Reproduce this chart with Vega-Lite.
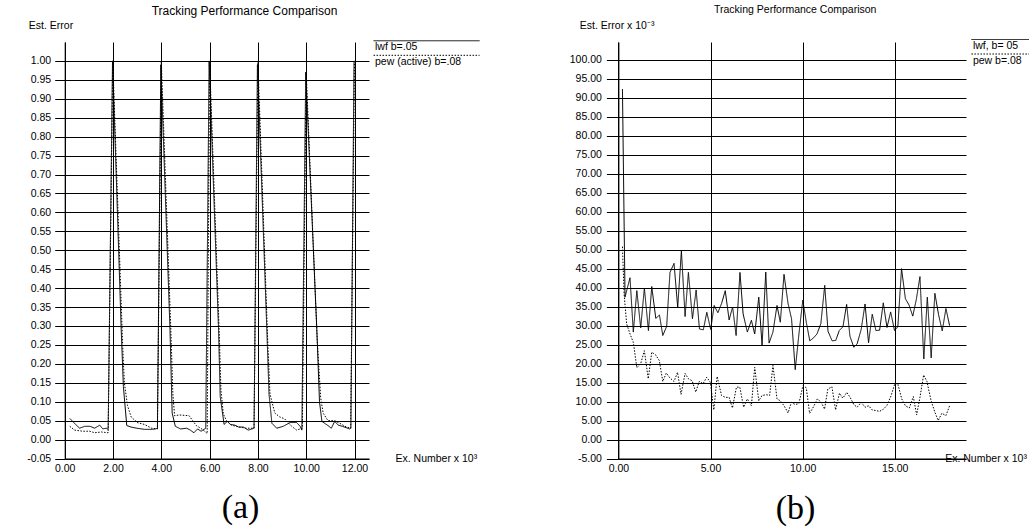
{
  "$schema": "https://vega.github.io/schema/vega-lite/v6.json",
  "width": 1029,
  "height": 416.5,
  "autosize": {"type": "none"},
  "padding": {"left": 0, "right": 0, "top": 42, "bottom": 68.5},
  "background": "white",
  "config": {
    "view": {"stroke": null},
    "font": "Liberation Sans",
    "axis": {
      "labelFont": "Liberation Sans", "labelFontSize": 10.5, "labelColor": "#000",
      "titleFont": "Liberation Sans", "titleFontWeight": "normal", "titleColor": "#000",
      "domainColor": "#000", "tickColor": "#000", "gridColor": "#000", "gridOpacity": 1,
      "gridWidth": 1, "domainWidth": 1, "tickWidth": 1, "labelFlush": false, "labelOverlap": false
    },
    "legend": {"labelFont": "Liberation Sans", "labelFontSize": 10.5, "labelColor": "#000", "padding": 0}
  },
  "resolve": {
    "scale": {"x": "independent", "y": "independent", "strokeDash": "independent"},
    "axis": {"x": "independent", "y": "independent"},
    "legend": {"strokeDash": "independent"}
  },
  "layer": [
    {
      "data": {"values": [
        {"series": "lwf b=.05", "ex": 0.21, "err": 0.056}, {"series": "lwf b=.05", "ex": 0.45, "err": 0.04},
        {"series": "lwf b=.05", "ex": 0.62, "err": 0.03}, {"series": "lwf b=.05", "ex": 0.83, "err": 0.035},
        {"series": "lwf b=.05", "ex": 1.05, "err": 0.035}, {"series": "lwf b=.05", "ex": 1.24, "err": 0.03},
        {"series": "lwf b=.05", "ex": 1.45, "err": 0.038}, {"series": "lwf b=.05", "ex": 1.58, "err": 0.028},
        {"series": "lwf b=.05", "ex": 1.72, "err": 0.03}, {"series": "lwf b=.05", "ex": 1.8, "err": 0.027},
        {"series": "lwf b=.05", "ex": 1.98, "err": 1.0}, {"series": "lwf b=.05", "ex": 2.34, "err": 0.29},
        {"series": "lwf b=.05", "ex": 2.43, "err": 0.14}, {"series": "lwf b=.05", "ex": 2.57, "err": 0.037},
        {"series": "lwf b=.05", "ex": 2.75, "err": 0.033}, {"series": "lwf b=.05", "ex": 2.98, "err": 0.03},
        {"series": "lwf b=.05", "ex": 3.3, "err": 0.027}, {"series": "lwf b=.05", "ex": 3.6, "err": 0.027},
        {"series": "lwf b=.05", "ex": 3.75, "err": 0.028}, {"series": "lwf b=.05", "ex": 3.84, "err": 0.03},
        {"series": "lwf b=.05", "ex": 3.98, "err": 0.99}, {"series": "lwf b=.05", "ex": 4.36, "err": 0.29},
        {"series": "lwf b=.05", "ex": 4.45, "err": 0.07}, {"series": "lwf b=.05", "ex": 4.58, "err": 0.035},
        {"series": "lwf b=.05", "ex": 4.8, "err": 0.028}, {"series": "lwf b=.05", "ex": 5.05, "err": 0.03},
        {"series": "lwf b=.05", "ex": 5.2, "err": 0.025}, {"series": "lwf b=.05", "ex": 5.35, "err": 0.018},
        {"series": "lwf b=.05", "ex": 5.5, "err": 0.028}, {"series": "lwf b=.05", "ex": 5.65, "err": 0.022},
        {"series": "lwf b=.05", "ex": 5.84, "err": 0.03}, {"series": "lwf b=.05", "ex": 5.98, "err": 1.0},
        {"series": "lwf b=.05", "ex": 6.37, "err": 0.29}, {"series": "lwf b=.05", "ex": 6.44, "err": 0.113},
        {"series": "lwf b=.05", "ex": 6.6, "err": 0.04}, {"series": "lwf b=.05", "ex": 6.73, "err": 0.048},
        {"series": "lwf b=.05", "ex": 6.86, "err": 0.04}, {"series": "lwf b=.05", "ex": 7.05, "err": 0.038},
        {"series": "lwf b=.05", "ex": 7.2, "err": 0.033}, {"series": "lwf b=.05", "ex": 7.4, "err": 0.033},
        {"series": "lwf b=.05", "ex": 7.6, "err": 0.025}, {"series": "lwf b=.05", "ex": 7.75, "err": 0.028},
        {"series": "lwf b=.05", "ex": 7.84, "err": 0.03}, {"series": "lwf b=.05", "ex": 7.98, "err": 0.99},
        {"series": "lwf b=.05", "ex": 8.37, "err": 0.29}, {"series": "lwf b=.05", "ex": 8.46, "err": 0.12},
        {"series": "lwf b=.05", "ex": 8.58, "err": 0.043}, {"series": "lwf b=.05", "ex": 8.78, "err": 0.03},
        {"series": "lwf b=.05", "ex": 9.05, "err": 0.035}, {"series": "lwf b=.05", "ex": 9.33, "err": 0.045},
        {"series": "lwf b=.05", "ex": 9.6, "err": 0.045}, {"series": "lwf b=.05", "ex": 9.75, "err": 0.035},
        {"series": "lwf b=.05", "ex": 9.82, "err": 0.025}, {"series": "lwf b=.05", "ex": 9.98, "err": 0.97},
        {"series": "lwf b=.05", "ex": 10.44, "err": 0.29}, {"series": "lwf b=.05", "ex": 10.55, "err": 0.1},
        {"series": "lwf b=.05", "ex": 10.65, "err": 0.048}, {"series": "lwf b=.05", "ex": 10.9, "err": 0.037},
        {"series": "lwf b=.05", "ex": 11.04, "err": 0.03}, {"series": "lwf b=.05", "ex": 11.18, "err": 0.048},
        {"series": "lwf b=.05", "ex": 11.33, "err": 0.038}, {"series": "lwf b=.05", "ex": 11.5, "err": 0.035},
        {"series": "lwf b=.05", "ex": 11.8, "err": 0.028}, {"series": "lwf b=.05", "ex": 11.85, "err": 0.03},
        {"series": "lwf b=.05", "ex": 11.98, "err": 1.0}
      ]},
      "mark": {"type": "line", "color": "#000", "strokeWidth": 1},
      "encoding": {
        "x": {"field": "ex", "type": "quantitative",
          "scale": {"domain": [0, 12.6], "range": [64.7, 369], "nice": false, "zero": false},
          "axis": {"orient": "bottom", "values": [0, 2, 4, 6, 8, 10, 12], "format": ".2f", "ticks": false,
            "labelPadding": 5, "grid": true, "title": "Ex. Number x 10³", "titleX": 395, "titleY": -0.5,
            "titleAlign": "left", "titleBaseline": "middle", "titleAngle": 0, "titleFontSize": 10.5}},
        "y": {"field": "err", "type": "quantitative",
          "scale": {"domain": [-0.05, 1.05], "nice": false, "zero": false},
          "axis": {"orient": "left", "offset": -64.7,
            "values": [-0.05, 0, 0.05, 0.1, 0.15, 0.2, 0.25, 0.3, 0.35, 0.4, 0.45, 0.5, 0.55, 0.6, 0.65, 0.7, 0.75, 0.8, 0.85, 0.9, 0.95, 1.0],
            "format": ".2f", "labelExpr": "replace(datum.label, '\u2212', '-')", "tickSize": 10, "labelPadding": 4,
            "grid": true, "title": "Est. Error", "titleX": -36.4, "titleY": -16.3, "titleAlign": "left",
            "titleBaseline": "middle", "titleAngle": 0, "titleFontSize": 10.5}},
        "strokeDash": {"field": "series", "type": "nominal",
          "scale": {"domain": ["lwf b=.05"], "range": [[1, 0]]},
          "legend": {"orient": "none", "legendX": 368.3, "legendY": -6.5, "title": null, "symbolType": "M0,0H40",
            "symbolSize": 28.09, "symbolStrokeWidth": 1, "symbolStrokeColor": "#000", "labelOffset": -3.8, "labelBaseline": "top",
            "encode": {"labels": {"update": {"dy": {"value": 1.5}}}}}}
      }
    },
    {
      "data": {"values": [
        {"series": "pew (active) b=.08", "ex": 0.21, "err": 0.035}, {"series": "pew (active) b=.08", "ex": 0.41, "err": 0.025},
        {"series": "pew (active) b=.08", "ex": 0.76, "err": 0.022}, {"series": "pew (active) b=.08", "ex": 1.04, "err": 0.022},
        {"series": "pew (active) b=.08", "ex": 1.24, "err": 0.018}, {"series": "pew (active) b=.08", "ex": 1.52, "err": 0.02},
        {"series": "pew (active) b=.08", "ex": 1.8, "err": 0.018}, {"series": "pew (active) b=.08", "ex": 1.99, "err": 1.0},
        {"series": "pew (active) b=.08", "ex": 2.4, "err": 0.25}, {"series": "pew (active) b=.08", "ex": 2.47, "err": 0.15},
        {"series": "pew (active) b=.08", "ex": 2.6, "err": 0.09}, {"series": "pew (active) b=.08", "ex": 2.75, "err": 0.06},
        {"series": "pew (active) b=.08", "ex": 3.0, "err": 0.045}, {"series": "pew (active) b=.08", "ex": 3.3, "err": 0.04},
        {"series": "pew (active) b=.08", "ex": 3.6, "err": 0.03}, {"series": "pew (active) b=.08", "ex": 3.84, "err": 0.028},
        {"series": "pew (active) b=.08", "ex": 4.0, "err": 1.0}, {"series": "pew (active) b=.08", "ex": 4.4, "err": 0.28},
        {"series": "pew (active) b=.08", "ex": 4.48, "err": 0.12}, {"series": "pew (active) b=.08", "ex": 4.55, "err": 0.063},
        {"series": "pew (active) b=.08", "ex": 4.75, "err": 0.065}, {"series": "pew (active) b=.08", "ex": 5.15, "err": 0.063},
        {"series": "pew (active) b=.08", "ex": 5.3, "err": 0.05}, {"series": "pew (active) b=.08", "ex": 5.45, "err": 0.037},
        {"series": "pew (active) b=.08", "ex": 5.7, "err": 0.027}, {"series": "pew (active) b=.08", "ex": 5.9, "err": 0.016},
        {"series": "pew (active) b=.08", "ex": 6.0, "err": 1.0}, {"series": "pew (active) b=.08", "ex": 6.4, "err": 0.28},
        {"series": "pew (active) b=.08", "ex": 6.47, "err": 0.13}, {"series": "pew (active) b=.08", "ex": 6.57, "err": 0.067},
        {"series": "pew (active) b=.08", "ex": 6.7, "err": 0.05}, {"series": "pew (active) b=.08", "ex": 6.9, "err": 0.038},
        {"series": "pew (active) b=.08", "ex": 7.25, "err": 0.033}, {"series": "pew (active) b=.08", "ex": 7.5, "err": 0.03},
        {"series": "pew (active) b=.08", "ex": 7.84, "err": 0.03}, {"series": "pew (active) b=.08", "ex": 8.0, "err": 1.0},
        {"series": "pew (active) b=.08", "ex": 8.4, "err": 0.27}, {"series": "pew (active) b=.08", "ex": 8.5, "err": 0.12},
        {"series": "pew (active) b=.08", "ex": 8.7, "err": 0.07}, {"series": "pew (active) b=.08", "ex": 8.9, "err": 0.06},
        {"series": "pew (active) b=.08", "ex": 9.1, "err": 0.055}, {"series": "pew (active) b=.08", "ex": 9.4, "err": 0.035},
        {"series": "pew (active) b=.08", "ex": 9.6, "err": 0.025}, {"series": "pew (active) b=.08", "ex": 9.84, "err": 0.03},
        {"series": "pew (active) b=.08", "ex": 10.0, "err": 0.97}, {"series": "pew (active) b=.08", "ex": 10.45, "err": 0.27},
        {"series": "pew (active) b=.08", "ex": 10.6, "err": 0.11}, {"series": "pew (active) b=.08", "ex": 10.7, "err": 0.07},
        {"series": "pew (active) b=.08", "ex": 10.9, "err": 0.05}, {"series": "pew (active) b=.08", "ex": 11.18, "err": 0.05},
        {"series": "pew (active) b=.08", "ex": 11.33, "err": 0.045}, {"series": "pew (active) b=.08", "ex": 11.67, "err": 0.033},
        {"series": "pew (active) b=.08", "ex": 11.84, "err": 0.03}, {"series": "pew (active) b=.08", "ex": 12.0, "err": 1.0}
      ]},
      "mark": {"type": "line", "color": "#000", "strokeWidth": 1},
      "encoding": {
        "x": {"field": "ex", "type": "quantitative",
          "scale": {"domain": [0, 12.6], "range": [64.7, 369], "nice": false, "zero": false},
          "axis": {"orient": "bottom", "labels": false, "ticks": false, "domain": false, "grid": false,
            "title": "(a)", "titleX": 240, "titleY": 48.5, "titleAlign": "center", "titleBaseline": "middle",
            "titleAngle": 0, "titleFont": "Liberation Serif", "titleFontSize": 34}},
        "y": {"field": "err", "type": "quantitative",
          "scale": {"domain": [-0.05, 1.05], "nice": false, "zero": false},
          "axis": {"orient": "left", "labels": false, "ticks": false, "domain": false, "grid": false,
            "title": "Tracking Performance Comparison", "titleX": 244, "titleY": -32, "titleAlign": "center",
            "titleBaseline": "middle", "titleAngle": 0, "titleFontSize": 12}},
        "strokeDash": {"field": "series", "type": "nominal",
          "scale": {"domain": ["pew (active) b=.08"], "range": [[1.5, 1.5]]},
          "legend": {"orient": "none", "legendX": 368.3, "legendY": 8.05, "title": null, "symbolType": "M0,0H40",
            "symbolSize": 28.09, "symbolStrokeWidth": 1, "symbolStrokeColor": "#000", "labelOffset": -3.8, "labelBaseline": "top",
            "encode": {"labels": {"update": {"dy": {"value": 1.5}}}}}}
      }
    },
    {
      "data": {"values": [
        {"series": "lwf, b= 05", "ex": 0.22, "err": 92.3}, {"series": "lwf, b= 05", "ex": 0.36, "err": 37.5},
        {"series": "lwf, b= 05", "ex": 0.63, "err": 42.6}, {"series": "lwf, b= 05", "ex": 0.81, "err": 28.3},
        {"series": "lwf, b= 05", "ex": 1.0, "err": 39.2}, {"series": "lwf, b= 05", "ex": 1.21, "err": 29.4},
        {"series": "lwf, b= 05", "ex": 1.41, "err": 39.9}, {"series": "lwf, b= 05", "ex": 1.63, "err": 28.7},
        {"series": "lwf, b= 05", "ex": 1.81, "err": 40.3}, {"series": "lwf, b= 05", "ex": 2.03, "err": 31.9},
        {"series": "lwf, b= 05", "ex": 2.23, "err": 32.8}, {"series": "lwf, b= 05", "ex": 2.41, "err": 27.4},
        {"series": "lwf, b= 05", "ex": 2.62, "err": 29.8}, {"series": "lwf, b= 05", "ex": 2.8, "err": 44.0},
        {"series": "lwf, b= 05", "ex": 3.02, "err": 46.4}, {"series": "lwf, b= 05", "ex": 3.22, "err": 34.8},
        {"series": "lwf, b= 05", "ex": 3.42, "err": 49.7}, {"series": "lwf, b= 05", "ex": 3.62, "err": 32.4},
        {"series": "lwf, b= 05", "ex": 3.8, "err": 44.0}, {"series": "lwf, b= 05", "ex": 4.02, "err": 31.8},
        {"series": "lwf, b= 05", "ex": 4.22, "err": 39.4}, {"series": "lwf, b= 05", "ex": 4.4, "err": 29.1},
        {"series": "lwf, b= 05", "ex": 4.61, "err": 28.9}, {"series": "lwf, b= 05", "ex": 4.8, "err": 33.5},
        {"series": "lwf, b= 05", "ex": 5.01, "err": 29.0}, {"series": "lwf, b= 05", "ex": 5.2, "err": 35.3},
        {"series": "lwf, b= 05", "ex": 5.4, "err": 33.4}, {"series": "lwf, b= 05", "ex": 5.6, "err": 35.8},
        {"series": "lwf, b= 05", "ex": 5.8, "err": 39.2}, {"series": "lwf, b= 05", "ex": 6.01, "err": 31.5},
        {"series": "lwf, b= 05", "ex": 6.2, "err": 34.9}, {"series": "lwf, b= 05", "ex": 6.39, "err": 27.4},
        {"series": "lwf, b= 05", "ex": 6.6, "err": 44.0}, {"series": "lwf, b= 05", "ex": 6.77, "err": 33.1},
        {"series": "lwf, b= 05", "ex": 7.0, "err": 28.3}, {"series": "lwf, b= 05", "ex": 7.22, "err": 31.4},
        {"series": "lwf, b= 05", "ex": 7.4, "err": 27.8}, {"series": "lwf, b= 05", "ex": 7.62, "err": 37.5},
        {"series": "lwf, b= 05", "ex": 7.8, "err": 24.8}, {"series": "lwf, b= 05", "ex": 8.0, "err": 44.1},
        {"series": "lwf, b= 05", "ex": 8.18, "err": 25.4}, {"series": "lwf, b= 05", "ex": 8.39, "err": 28.3},
        {"series": "lwf, b= 05", "ex": 8.61, "err": 35.3}, {"series": "lwf, b= 05", "ex": 8.79, "err": 30.9},
        {"series": "lwf, b= 05", "ex": 8.99, "err": 43.5}, {"series": "lwf, b= 05", "ex": 9.21, "err": 35.8},
        {"series": "lwf, b= 05", "ex": 9.4, "err": 31.8}, {"series": "lwf, b= 05", "ex": 9.6, "err": 18.4},
        {"series": "lwf, b= 05", "ex": 9.8, "err": 27.8}, {"series": "lwf, b= 05", "ex": 10.01, "err": 36.7},
        {"series": "lwf, b= 05", "ex": 10.2, "err": 30.9}, {"series": "lwf, b= 05", "ex": 10.39, "err": 26.0},
        {"series": "lwf, b= 05", "ex": 10.6, "err": 26.8}, {"series": "lwf, b= 05", "ex": 10.78, "err": 27.8},
        {"series": "lwf, b= 05", "ex": 10.99, "err": 30.5}, {"series": "lwf, b= 05", "ex": 11.2, "err": 40.6},
        {"series": "lwf, b= 05", "ex": 11.38, "err": 28.5}, {"series": "lwf, b= 05", "ex": 11.6, "err": 26.0},
        {"series": "lwf, b= 05", "ex": 11.8, "err": 26.1}, {"series": "lwf, b= 05", "ex": 11.99, "err": 28.7},
        {"series": "lwf, b= 05", "ex": 12.19, "err": 29.7}, {"series": "lwf, b= 05", "ex": 12.39, "err": 35.6},
        {"series": "lwf, b= 05", "ex": 12.57, "err": 27.2}, {"series": "lwf, b= 05", "ex": 12.78, "err": 24.3},
        {"series": "lwf, b= 05", "ex": 12.96, "err": 25.2}, {"series": "lwf, b= 05", "ex": 13.18, "err": 29.0},
        {"series": "lwf, b= 05", "ex": 13.39, "err": 35.7}, {"series": "lwf, b= 05", "ex": 13.58, "err": 25.5},
        {"series": "lwf, b= 05", "ex": 13.78, "err": 33.0}, {"series": "lwf, b= 05", "ex": 13.98, "err": 28.7},
        {"series": "lwf, b= 05", "ex": 14.18, "err": 28.8}, {"series": "lwf, b= 05", "ex": 14.38, "err": 36.0},
        {"series": "lwf, b= 05", "ex": 14.58, "err": 29.5}, {"series": "lwf, b= 05", "ex": 14.78, "err": 33.6},
        {"series": "lwf, b= 05", "ex": 14.99, "err": 28.7}, {"series": "lwf, b= 05", "ex": 15.17, "err": 29.7},
        {"series": "lwf, b= 05", "ex": 15.37, "err": 45.0}, {"series": "lwf, b= 05", "ex": 15.58, "err": 37.1},
        {"series": "lwf, b= 05", "ex": 15.78, "err": 35.4}, {"series": "lwf, b= 05", "ex": 15.98, "err": 32.5},
        {"series": "lwf, b= 05", "ex": 16.17, "err": 36.8}, {"series": "lwf, b= 05", "ex": 16.37, "err": 42.9},
        {"series": "lwf, b= 05", "ex": 16.58, "err": 21.2}, {"series": "lwf, b= 05", "ex": 16.77, "err": 37.5},
        {"series": "lwf, b= 05", "ex": 16.98, "err": 21.5}, {"series": "lwf, b= 05", "ex": 17.18, "err": 38.5},
        {"series": "lwf, b= 05", "ex": 17.38, "err": 32.9}, {"series": "lwf, b= 05", "ex": 17.58, "err": 28.6},
        {"series": "lwf, b= 05", "ex": 17.78, "err": 34.5}, {"series": "lwf, b= 05", "ex": 17.98, "err": 30.0}
      ]},
      "mark": {"type": "line", "color": "#000", "strokeWidth": 1},
      "encoding": {
        "x": {"field": "ex", "type": "quantitative",
          "scale": {"domain": [0, 18.87], "range": [618.4, 966], "nice": false, "zero": false},
          "axis": {"orient": "bottom", "values": [0, 5, 10, 15], "format": ".2f", "ticks": false,
            "labelPadding": 5, "grid": true, "title": "Ex. Number x 10³", "titleX": 944.7, "titleY": 0.4,
            "titleAlign": "left", "titleBaseline": "middle", "titleAngle": 0, "titleFontSize": 10.5}},
        "y": {"field": "err", "type": "quantitative",
          "scale": {"domain": [-5, 104.7], "nice": false, "zero": false},
          "axis": {"orient": "left", "offset": -618.4,
            "values": [-5, 0, 5, 10, 15, 20, 25, 30, 35, 40, 45, 50, 55, 60, 65, 70, 75, 80, 85, 90, 95, 100],
            "format": ".2f", "labelExpr": "replace(datum.label, '\u2212', '-')", "tickSize": 12, "labelPadding": 5,
            "grid": true, "title": "Est. Error x 10⁻³", "titleX": -39.1, "titleY": -16.7, "titleAlign": "left",
            "titleBaseline": "middle", "titleAngle": 0, "titleFontSize": 10.5}},
        "strokeDash": {"field": "series", "type": "nominal",
          "scale": {"domain": ["lwf, b= 05"], "range": [[1, 0]]},
          "legend": {"orient": "none", "legendX": 966.2, "legendY": -7.75, "title": null, "symbolType": "M0,0H40",
            "symbolSize": 28.09, "symbolStrokeWidth": 1, "symbolStrokeColor": "#000", "labelOffset": -3.8, "labelBaseline": "top",
            "encode": {"labels": {"update": {"dy": {"value": 1.5}}}}}}
      }
    },
    {
      "data": {"values": [
        {"series": "pew b=.08", "ex": 0.22, "err": 50.8}, {"series": "pew b=.08", "ex": 0.31, "err": 38.3},
        {"series": "pew b=.08", "ex": 0.45, "err": 30.4}, {"series": "pew b=.08", "ex": 0.63, "err": 27.8},
        {"series": "pew b=.08", "ex": 0.81, "err": 25.6}, {"series": "pew b=.08", "ex": 1.0, "err": 18.9},
        {"series": "pew b=.08", "ex": 1.21, "err": 20.0}, {"series": "pew b=.08", "ex": 1.41, "err": 23.4},
        {"series": "pew b=.08", "ex": 1.62, "err": 16.0}, {"series": "pew b=.08", "ex": 1.81, "err": 23.0},
        {"series": "pew b=.08", "ex": 2.02, "err": 22.3}, {"series": "pew b=.08", "ex": 2.22, "err": 20.8},
        {"series": "pew b=.08", "ex": 2.41, "err": 15.3}, {"series": "pew b=.08", "ex": 2.6, "err": 17.5},
        {"series": "pew b=.08", "ex": 2.8, "err": 16.2}, {"series": "pew b=.08", "ex": 3.02, "err": 15.3},
        {"series": "pew b=.08", "ex": 3.21, "err": 17.7}, {"series": "pew b=.08", "ex": 3.4, "err": 11.9},
        {"series": "pew b=.08", "ex": 3.62, "err": 17.4}, {"series": "pew b=.08", "ex": 3.8, "err": 16.0},
        {"series": "pew b=.08", "ex": 4.0, "err": 15.5}, {"series": "pew b=.08", "ex": 4.2, "err": 12.5},
        {"series": "pew b=.08", "ex": 4.39, "err": 15.3}, {"series": "pew b=.08", "ex": 4.6, "err": 14.7},
        {"series": "pew b=.08", "ex": 4.79, "err": 16.4}, {"series": "pew b=.08", "ex": 4.99, "err": 15.1},
        {"series": "pew b=.08", "ex": 5.18, "err": 7.8}, {"series": "pew b=.08", "ex": 5.36, "err": 16.6},
        {"series": "pew b=.08", "ex": 5.6, "err": 11.6}, {"series": "pew b=.08", "ex": 5.81, "err": 11.1},
        {"series": "pew b=.08", "ex": 6.01, "err": 11.1}, {"series": "pew b=.08", "ex": 6.19, "err": 8.3},
        {"series": "pew b=.08", "ex": 6.41, "err": 13.8}, {"series": "pew b=.08", "ex": 6.59, "err": 13.8},
        {"series": "pew b=.08", "ex": 6.8, "err": 8.5}, {"series": "pew b=.08", "ex": 7.0, "err": 10.7},
        {"series": "pew b=.08", "ex": 7.22, "err": 8.9}, {"series": "pew b=.08", "ex": 7.4, "err": 19.0},
        {"series": "pew b=.08", "ex": 7.62, "err": 10.2}, {"series": "pew b=.08", "ex": 7.8, "err": 11.6},
        {"series": "pew b=.08", "ex": 8.03, "err": 11.8}, {"series": "pew b=.08", "ex": 8.21, "err": 11.6},
        {"series": "pew b=.08", "ex": 8.39, "err": 19.5}, {"series": "pew b=.08", "ex": 8.61, "err": 10.7},
        {"series": "pew b=.08", "ex": 8.79, "err": 10.2}, {"series": "pew b=.08", "ex": 8.99, "err": 8.9},
        {"series": "pew b=.08", "ex": 9.21, "err": 7.0}, {"series": "pew b=.08", "ex": 9.39, "err": 9.8},
        {"series": "pew b=.08", "ex": 9.6, "err": 9.2}, {"series": "pew b=.08", "ex": 9.8, "err": 9.5},
        {"series": "pew b=.08", "ex": 10.02, "err": 14.2}, {"series": "pew b=.08", "ex": 10.2, "err": 13.6},
        {"series": "pew b=.08", "ex": 10.38, "err": 6.9}, {"series": "pew b=.08", "ex": 10.6, "err": 8.7},
        {"series": "pew b=.08", "ex": 10.8, "err": 10.7}, {"series": "pew b=.08", "ex": 11.01, "err": 9.8},
        {"series": "pew b=.08", "ex": 11.19, "err": 8.0}, {"series": "pew b=.08", "ex": 11.37, "err": 13.3},
        {"series": "pew b=.08", "ex": 11.59, "err": 13.9}, {"series": "pew b=.08", "ex": 11.79, "err": 7.8},
        {"series": "pew b=.08", "ex": 12.0, "err": 12.2}, {"series": "pew b=.08", "ex": 12.18, "err": 10.9},
        {"series": "pew b=.08", "ex": 12.4, "err": 12.4}, {"series": "pew b=.08", "ex": 12.58, "err": 11.1},
        {"series": "pew b=.08", "ex": 12.78, "err": 9.2}, {"series": "pew b=.08", "ex": 12.96, "err": 8.5},
        {"series": "pew b=.08", "ex": 13.18, "err": 9.8}, {"series": "pew b=.08", "ex": 13.39, "err": 8.5},
        {"series": "pew b=.08", "ex": 13.59, "err": 8.9}, {"series": "pew b=.08", "ex": 13.77, "err": 7.8},
        {"series": "pew b=.08", "ex": 14.0, "err": 7.6}, {"series": "pew b=.08", "ex": 14.17, "err": 7.4},
        {"series": "pew b=.08", "ex": 14.39, "err": 8.0}, {"series": "pew b=.08", "ex": 14.58, "err": 9.0},
        {"series": "pew b=.08", "ex": 14.8, "err": 11.5}, {"series": "pew b=.08", "ex": 15.0, "err": 14.6},
        {"series": "pew b=.08", "ex": 15.16, "err": 14.8}, {"series": "pew b=.08", "ex": 15.38, "err": 10.7},
        {"series": "pew b=.08", "ex": 15.58, "err": 8.9}, {"series": "pew b=.08", "ex": 15.79, "err": 8.3},
        {"series": "pew b=.08", "ex": 16.01, "err": 11.3}, {"series": "pew b=.08", "ex": 16.19, "err": 6.5},
        {"series": "pew b=.08", "ex": 16.37, "err": 11.1}, {"series": "pew b=.08", "ex": 16.57, "err": 17.0},
        {"series": "pew b=.08", "ex": 16.75, "err": 15.3}, {"series": "pew b=.08", "ex": 16.97, "err": 10.3},
        {"series": "pew b=.08", "ex": 17.18, "err": 7.2}, {"series": "pew b=.08", "ex": 17.36, "err": 5.0},
        {"series": "pew b=.08", "ex": 17.56, "err": 6.9}, {"series": "pew b=.08", "ex": 17.78, "err": 6.3},
        {"series": "pew b=.08", "ex": 17.98, "err": 8.9}
      ]},
      "mark": {"type": "line", "color": "#000", "strokeWidth": 1},
      "encoding": {
        "x": {"field": "ex", "type": "quantitative",
          "scale": {"domain": [0, 18.87], "range": [618.4, 966], "nice": false, "zero": false},
          "axis": {"orient": "bottom", "labels": false, "ticks": false, "domain": false, "grid": false,
            "title": "(b)", "titleX": 795, "titleY": 49.5, "titleAlign": "center", "titleBaseline": "middle",
            "titleAngle": 0, "titleFont": "Liberation Serif", "titleFontSize": 34}},
        "y": {"field": "err", "type": "quantitative",
          "scale": {"domain": [-5, 104.7], "nice": false, "zero": false},
          "axis": {"orient": "left", "labels": false, "ticks": false, "domain": false, "grid": false,
            "title": "Tracking Performance Comparison", "titleX": 794.7, "titleY": -32.6, "titleAlign": "center",
            "titleBaseline": "middle", "titleAngle": 0, "titleFontSize": 10.5}},
        "strokeDash": {"field": "series", "type": "nominal",
          "scale": {"domain": ["pew b=.08"], "range": [[1.5, 1.5]]},
          "legend": {"orient": "none", "legendX": 966.2, "legendY": 6.75, "title": null, "symbolType": "M0,0H40",
            "symbolSize": 28.09, "symbolStrokeWidth": 1, "symbolStrokeColor": "#000", "labelOffset": -3.8, "labelBaseline": "top",
            "encode": {"labels": {"update": {"dy": {"value": 1.5}}}}}}
      }
    }
  ]
}
